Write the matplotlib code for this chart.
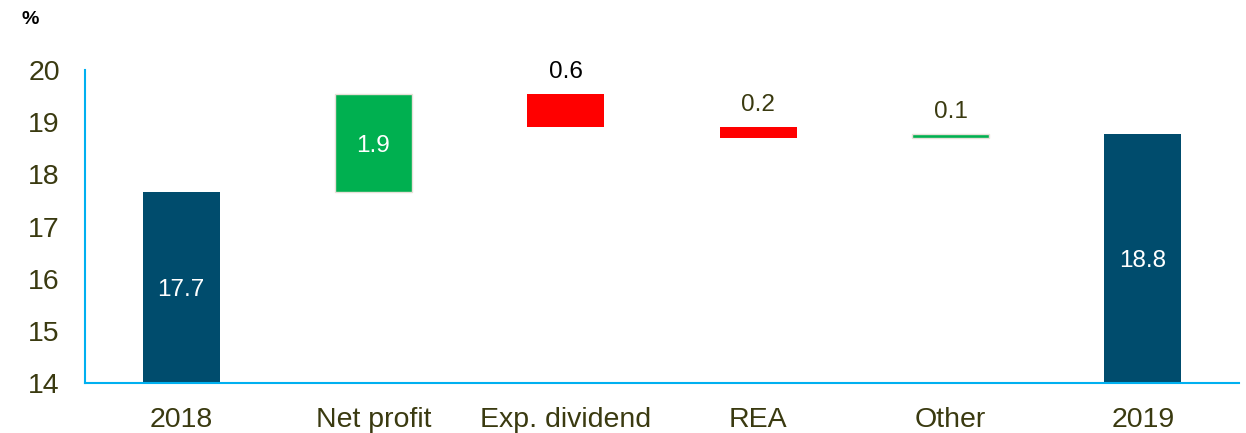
import matplotlib.pyplot as plt

plt.rcParams['font.family'] = ['Liberation Sans', 'DejaVu Sans']

# data
categories = ['2018', 'Net profit', 'Exp. dividend', 'REA', 'Other', '2019']
start_value = 17.66
changes = [1.88, -0.63, -0.22, 0.09]
end_value = 18.78

navy = '#004C6D'
green = '#00B050'
red = '#FF0000'
text_col = '#3A3A10'

fig = plt.figure(figsize=(12.46, 4.33), dpi=100)
ax = fig.add_axes([0.0682, 0.1155, 0.9262, 0.7225])

w = 0.4
# totals
ax.bar(0, start_value - 14, bottom=14, width=w, color=navy)
ax.bar(5, end_value - 14, bottom=14, width=w, color=navy)
ax.text(0, (start_value + 14) / 2, f"{start_value:.1f}", color='white',
        ha='center', va='center_baseline', fontsize=17.5)
ax.text(5, (end_value + 14) / 2, f"{end_value:.1f}", color='white',
        ha='center', va='center_baseline', fontsize=17.5)

# steps
level = start_value
for i, c in enumerate(changes, start=1):
    col = green if c > 0 else red
    lo = level if c > 0 else level + c
    ax.bar(i, abs(c), bottom=lo, width=w, color=col,
           edgecolor='#E8E0D8' if c > 0 else 'none', linewidth=1)
    if i == 1:
        ax.text(i, lo + abs(c) / 2, f"{abs(c):.1f}", color='white',
                ha='center', va='center_baseline', fontsize=17.5)
    else:
        ax.annotate(f"{abs(c):.1f}", (i, lo + abs(c)), xytext=(0, 8),
                    textcoords='offset points', ha='center', va='bottom',
                    fontsize=17.5, color='black' if i == 2 else text_col)
    level += c

ax.set_xlim(-0.5, 5.5)
ax.set_ylim(14, 20)
ax.set_yticks(range(14, 21))
ax.set_xticks(range(len(categories)))
ax.set_xticklabels(categories)
ax.tick_params(axis='y', length=0, pad=18, labelsize=20.5, labelcolor=text_col)
ax.tick_params(axis='x', length=0, pad=17, labelsize=20.5, labelcolor=text_col)

for s in ['top', 'right']:
    ax.spines[s].set_visible(False)
for s in ['left', 'bottom']:
    ax.spines[s].set_color('#00B0F0')
    ax.spines[s].set_linewidth(1.5)

fig.text(22 / 1246, 1 - 20 / 433, '%', fontsize=14, fontweight='bold',
         ha='left', va='center')

fig.savefig('out.png', dpi=100)
